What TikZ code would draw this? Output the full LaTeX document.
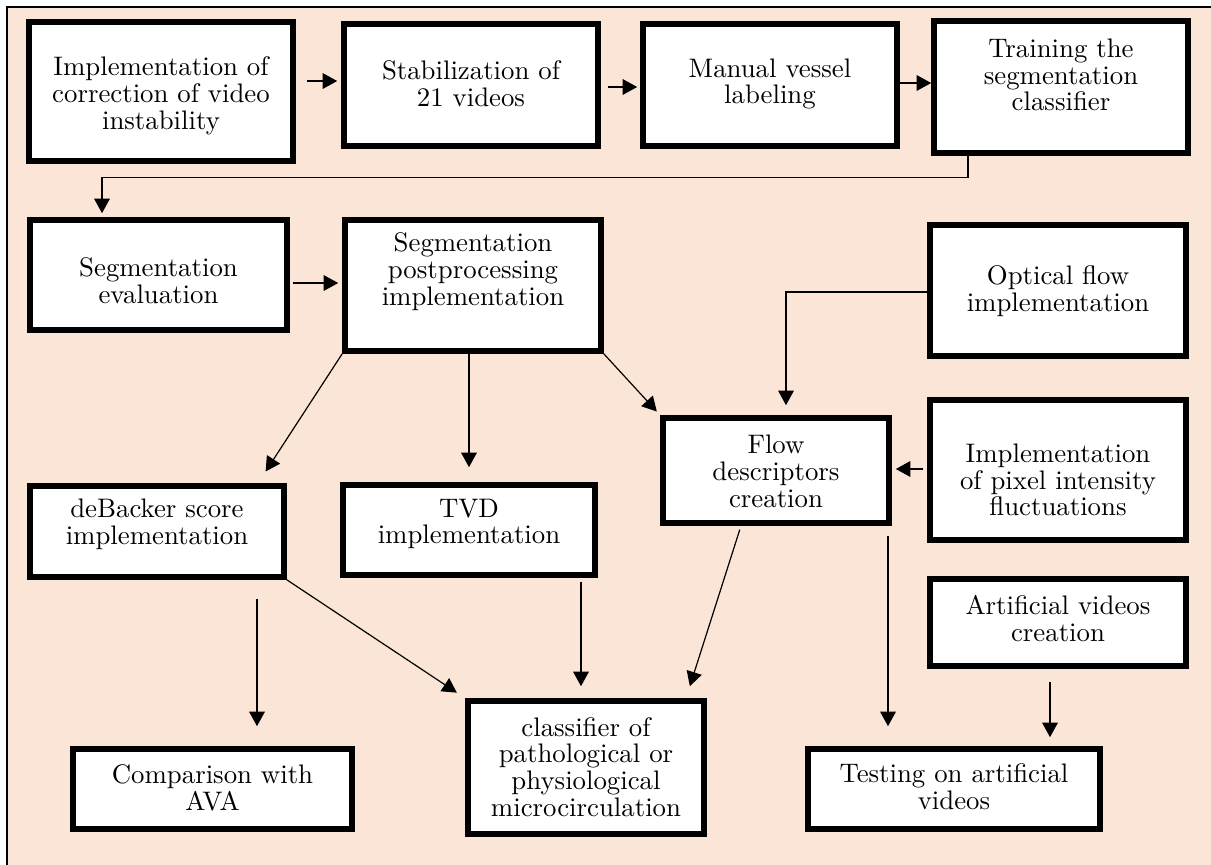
\documentclass[tikz,border=0pt]{standalone}
\usepackage{fontspec}
\usetikzlibrary{arrows.meta}
\definecolor{peach}{HTML}{FBE5D6}
\def\px{0.3731pt}
\begin{document}
\begin{tikzpicture}[x=0.3731pt, y=-0.3731pt,
  bx/.style={draw=black, fill=white, line width=5.6*\px, inner sep=0pt},
  txt/.style={align=center, inner sep=0pt, font=\fontsize{10}{10}\selectfont},
  arr/.style={line width=0.45pt, -{Triangle[length=5.4pt,width=5.8pt]}}]
\useasboundingbox (0,0) rectangle (1211,865);
\fill[peach] (7,7) rectangle (1211,865);
\draw[line width=0.8pt] (7,865) -- (7,7) -- (1211,7);

% boxes
\node[bx, minimum width=264*\px, minimum height=139*\px] (b1) at (161,91.5) {};
\node[bx, minimum width=254*\px, minimum height=122*\px] (b2) at (471,85) {};
\node[bx, minimum width=254*\px, minimum height=122*\px] (b3) at (770,85) {};
\node[bx, minimum width=254*\px, minimum height=132*\px] (b4) at (1061,87) {};
\node[bx, minimum width=257*\px, minimum height=110*\px] (b5) at (158.5,275) {};
\node[bx, minimum width=256*\px, minimum height=131*\px] (b6) at (473,285.5) {};
\node[bx, minimum width=256*\px, minimum height=131*\px] (b7) at (1058,290.5) {};
\node[bx, minimum width=226*\px, minimum height=105*\px] (b8) at (776,470.5) {};
\node[bx, minimum width=256*\px, minimum height=140*\px] (b9) at (1058,470) {};
\node[bx, minimum width=254*\px, minimum height=91*\px] (b10) at (157,531.5) {};
\node[bx, minimum width=252*\px, minimum height=90*\px] (b11) at (469,530) {};
\node[bx, minimum width=256*\px, minimum height=87*\px] (b12) at (1058,622.5) {};
\node[bx, minimum width=279*\px, minimum height=80*\px] (b13) at (212.5,789) {};
\node[bx, minimum width=236*\px, minimum height=133*\px] (b14) at (586,767.5) {};
\node[bx, minimum width=292*\px, minimum height=80*\px] (b15) at (954,789) {};

% texts
\node[txt] (t1) at (161,95.5) {Implementation of\\correction of video\\instability};
\node[txt] (t2) at (471,84) {Stabilization of\\21 videos};
\node[txt] (t3) at (770,84) {Manual vessel\\labeling};
\node[txt] (t4) at (1061,75) {Training the\\segmentation\\classifier};
\node[txt] (t5) at (158.5,280.5) {Segmentation\\evaluation};
\node[txt] (t6) at (473,271.5) {Segmentation\\postprocessing\\implementation};
\node[txt] (t7) at (1058,291.5) {Optical flow\\implementation};
\node[txt] (t8) at (776,471.5) {Flow\\descriptors\\creation};
\node[txt] (t9) at (1058,480) {Implementation\\of pixel intensity\\fluctuations};
\node[txt] (t10) at (157,524.5) {deBacker score\\implementation};
\node[txt] (t11) at (469,524) {TVD\\implementation};
\node[txt] (t12) at (1058,618.5) {Artificial videos\\creation};
\node[txt] (t13) at (212.5,787.5) {Comparison with\\AVA};
\node[txt] (t14) at (586,767) {classifier of\\pathological or\\physiological\\microcirculation};
\node[txt] (t15) at (954,786.5) {Testing on artificial\\videos};

% connectors
\draw[arr, shorten <=11*\px, shorten >=4*\px] (b1.east |- 0,81) -- (b2.west |- 0,81);
\draw[arr, shorten <=7*\px, shorten >=3*\px] (b2.east |- 0,87) -- (b3.west |- 0,87);
\draw[arr] (b3.east |- 0,83) -- (b4.west |- 0,83);
\draw[arr, shorten >=4*\px] (b4.south -| 968,0) -- ++(0,22) -| (b5.north -| 102,0);
\draw[arr, shorten <=3*\px, shorten >=4*\px] (b5.east |- 0,283) -- (b6.west |- 0,283);
\draw[arr, shorten >=14*\px] (b6.south west) -- (b10.north -| 258,0);
\draw[arr, shorten >=15*\px] (b6.south -| 469,0) -- (b11.north -| 469,0);
\draw[arr, shorten >=5*\px] (b6.south east) -- (b8.north west);
\draw[arr, shorten >=10*\px] (b7.west |- 0,292) -| (b8.north -| 786,0);
\draw[arr, shorten <=4*\px, shorten >=4*\px] (b9.west |- 0,469) -- (b8.east |- 0,469);
\draw[arr, shorten >=10*\px] (b10.south east) -- (b14.north west);
\draw[arr, shorten <=19*\px, shorten >=20*\px] (b10.south -| 257,0) -- (b13.north -| 257,0);
\draw[arr, shorten <=4*\px, shorten >=12*\px] (b11.south -| 581,0) -- (b14.north -| 581,0);
\draw[arr, shorten <=4*\px, shorten >=12.6*\px] (b8.south -| 741,0) -- (b14.north -| 686,0);
\draw[arr, shorten <=10*\px, shorten >=20*\px] (b8.south -| 888,0) -- (b15.north -| 888,0);
\draw[arr, shorten <=13*\px, shorten >=9*\px] (b12.south -| 1050,0) -- (b15.north -| 1050,0);
\end{tikzpicture}
\end{document}
